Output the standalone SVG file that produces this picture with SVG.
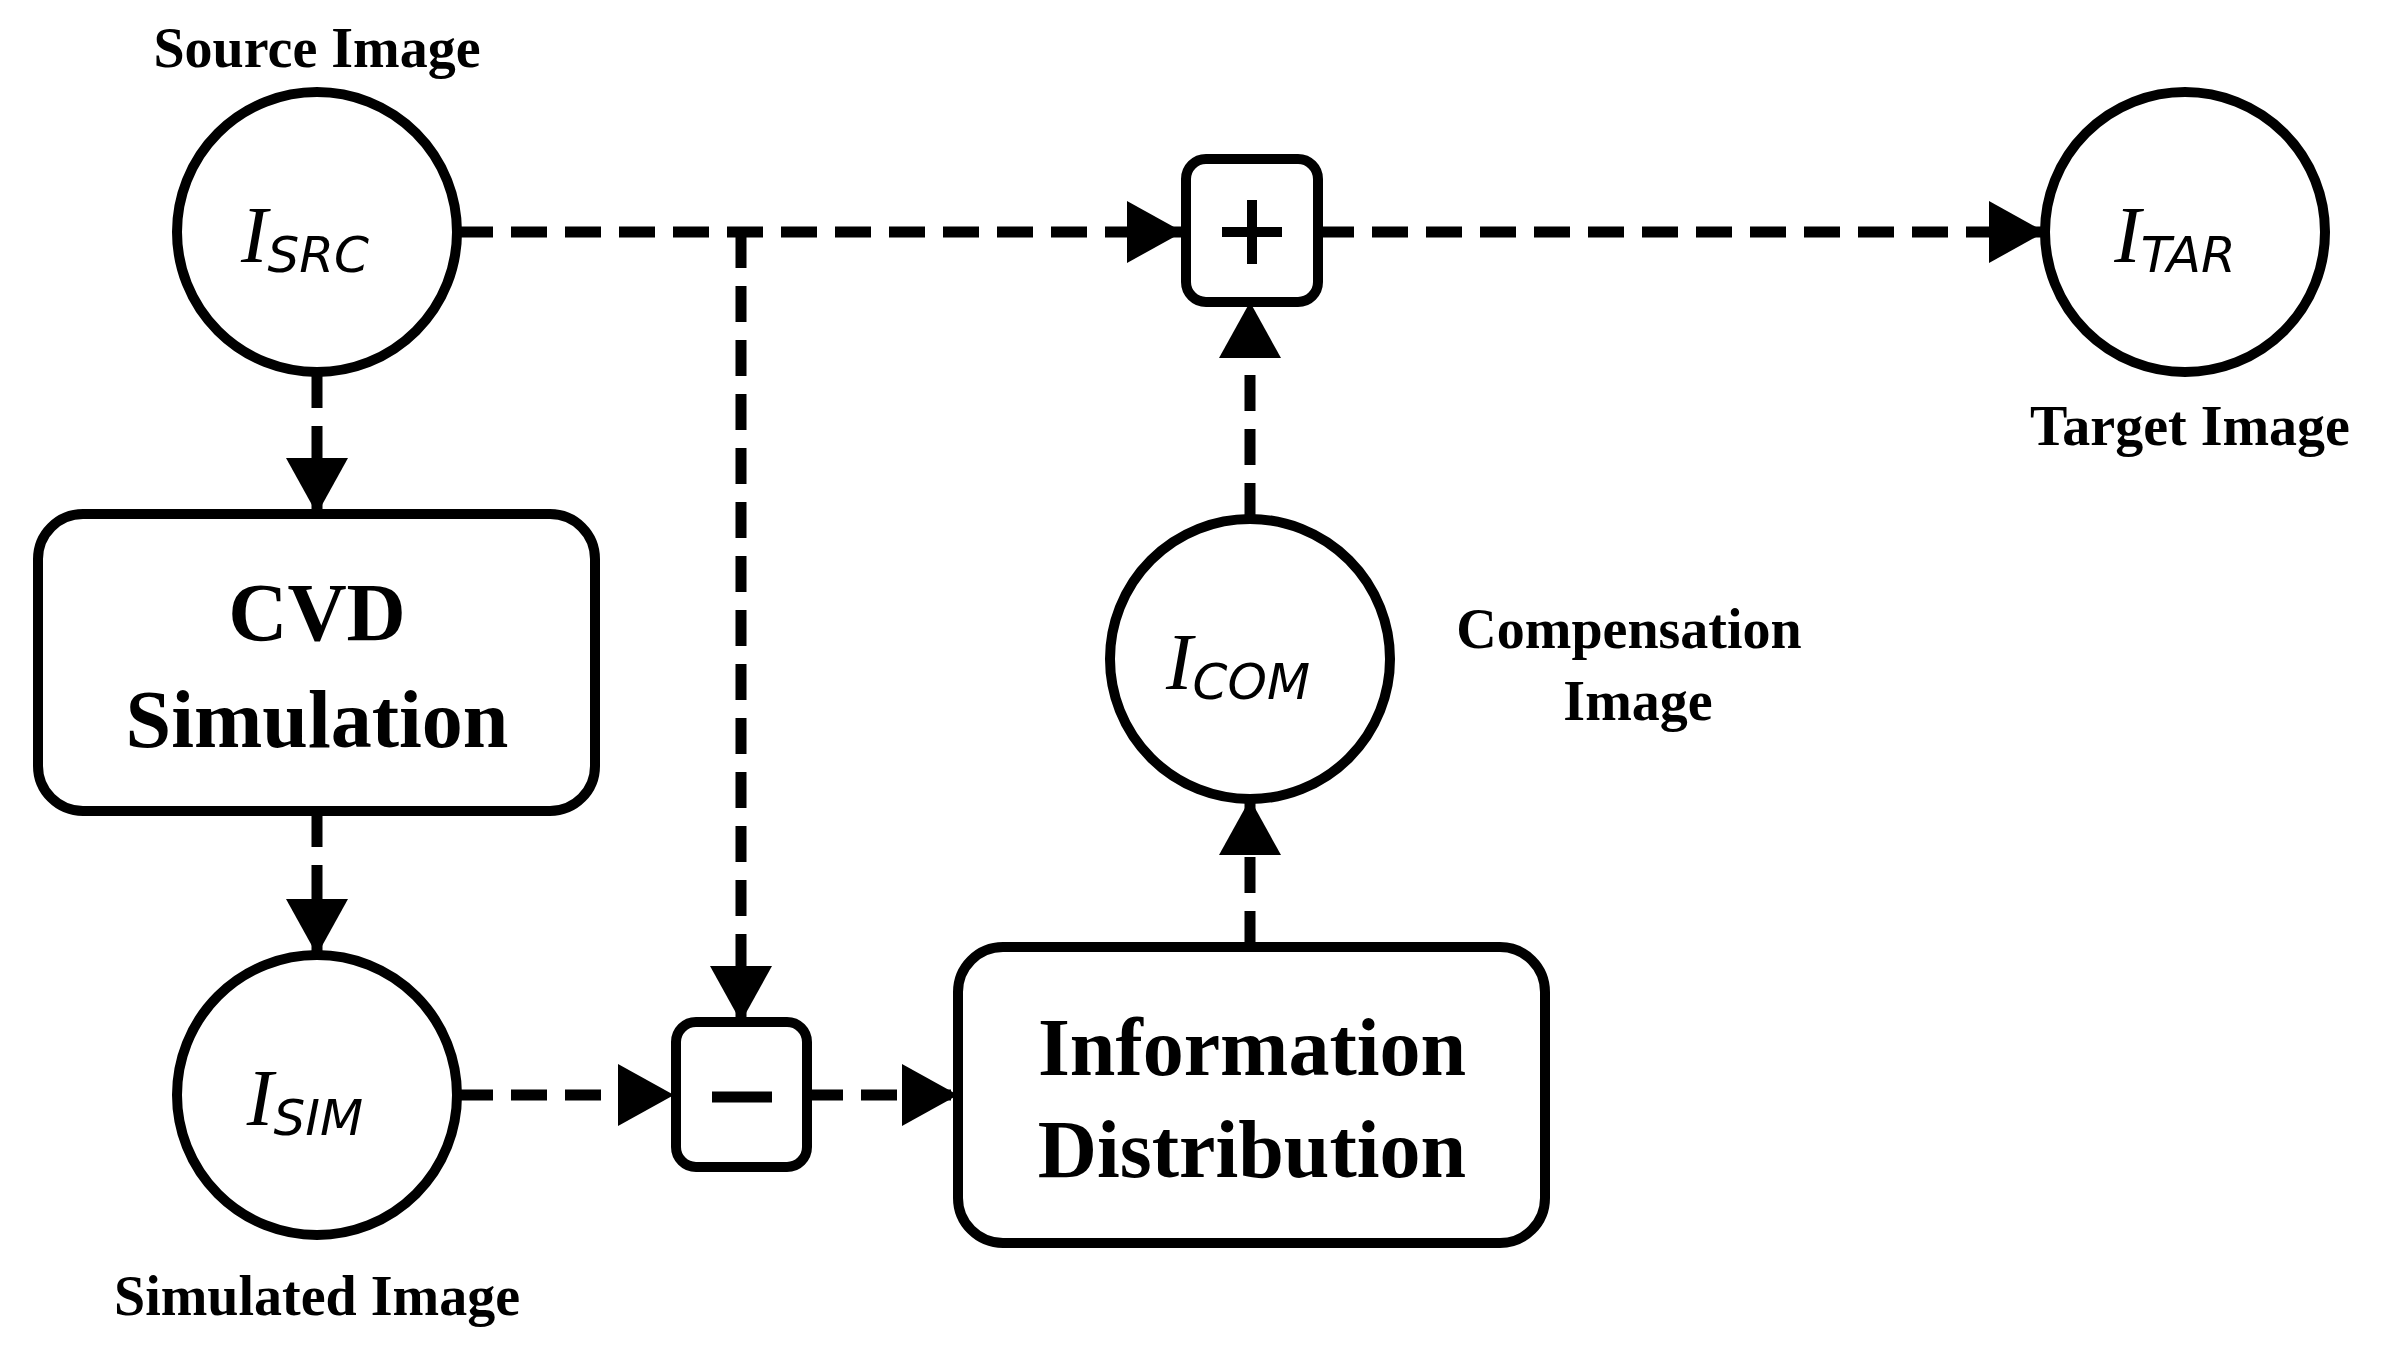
<svg xmlns="http://www.w3.org/2000/svg" width="2385" height="1346" viewBox="0 0 2385 1346">
<style>
.n{fill:#fff;stroke:#000;stroke-width:10}
.c{fill:none;stroke:#000;stroke-width:11;stroke-dasharray:36 18}
.lb{font-family:"Liberation Serif",serif;font-weight:bold;font-size:56px;text-anchor:middle}
.bx{font-family:"Liberation Serif",serif;font-weight:bold;font-size:82px;text-anchor:middle}
.im{font-family:"Liberation Serif",serif;font-style:italic;font-size:80px;text-anchor:middle}
.sb{font-family:"DejaVu Sans",sans-serif;font-style:oblique;font-size:50px}
.op{stroke:#000;stroke-width:10}
</style>
<defs>
<marker id="a" markerWidth="10" markerHeight="10" viewBox="0 0 10 10" refX="10" refY="5" orient="auto" markerUnits="userSpaceOnUse" style="overflow:visible">
<path d="M-44 -30 L10 5 L-44 40 Z" transform="translate(0,0)" fill="#000"/>
</marker>
<marker id="ar" viewBox="-60 -35 60 70" refX="0" refY="0" markerWidth="60" markerHeight="70" orient="auto" markerUnits="userSpaceOnUse">
<path d="M-56 -31 L0 0 L-56 31 Z" fill="#000"/>
</marker>
</defs>
<g id="connectors">
<path class="c" d="M457 232 H1183" marker-end="url(#ar)"/>
<path class="c" d="M741 232 V1022" marker-end="url(#ar)"/>
<path class="c" d="M1318 232 H2045" marker-end="url(#ar)"/>
<path class="c" d="M317 372 V514" marker-end="url(#ar)"/>
<path class="c" d="M317 811 V955" marker-end="url(#ar)"/>
<path class="c" d="M457 1095 H674" marker-end="url(#ar)"/>
<path class="c" d="M807 1095 H958" marker-end="url(#ar)"/>
<path class="c" d="M1250 947 V799" marker-end="url(#ar)"/>
<path class="c" d="M1250 519 V302" marker-end="url(#ar)"/>
</g>
<g id="src"><circle class="n" cx="317" cy="232" r="140"/><text class="im" x="305" y="262">I<tspan class="sb" dy="10">SRC</tspan></text><text class="lb" x="317" y="67">Source Image</text></g>
<g id="tar"><circle class="n" cx="2185" cy="232" r="140"/><text class="im" x="2175" y="262">I<tspan class="sb" dy="10">TAR</tspan></text><text class="lb" x="2190" y="445">Target Image</text></g>
<g id="com"><circle class="n" cx="1250" cy="659" r="140"/><text class="im" x="1238" y="689">I<tspan class="sb" dy="10">COM</tspan></text><text class="lb" x="1629" y="648">Compensation</text><text class="lb" x="1638" y="720">Image</text></g>
<g id="sim"><circle class="n" cx="317" cy="1095" r="140"/><text class="im" x="305" y="1125">I<tspan class="sb" dy="10">SIM</tspan></text><text class="lb" x="317" y="1315">Simulated Image</text></g>
<g id="cvd"><rect class="n" x="38" y="514" width="557" height="297" rx="45"/><text class="bx" x="317" y="640">CVD</text><text class="bx" x="317" y="747">Simulation</text></g>
<g id="info"><rect class="n" x="958" y="947" width="587" height="296" rx="45"/><text class="bx" x="1252" y="1075">Information</text><text class="bx" x="1252" y="1177">Distribution</text></g>
<g id="plus"><rect class="n" x="1186" y="159" width="132" height="143" rx="20"/><path class="op" d="M1222 232 H1282 M1252 200 V264"/></g>
<g id="minus"><rect class="n" x="676" y="1022" width="131" height="145" rx="20"/><path class="op" d="M712 1097 H772" style="stroke-width:11"/></g>
</svg>
